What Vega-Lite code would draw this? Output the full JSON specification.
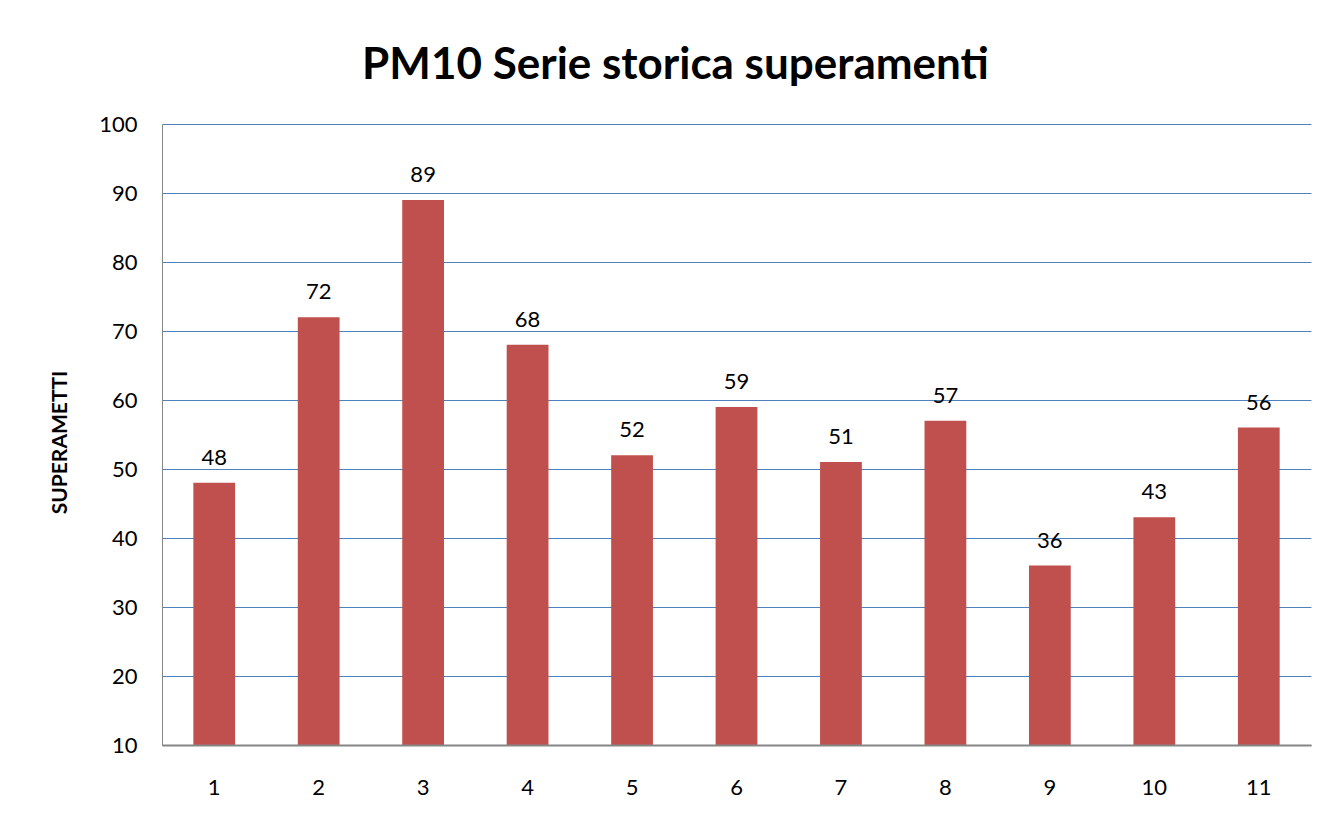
{
  "$schema": "https://vega.github.io/schema/vega-lite/v6.json",
  "width": 1149,
  "height": 621,
  "autosize": {"type": "none"},
  "padding": {"left": 162, "top": 124, "right": 18, "bottom": 78},
  "background": "white",
  "title": {
    "text": "PM10 Serie storica superamenti",
    "font": "Lato",
    "fontSize": 44,
    "fontWeight": "bold",
    "color": "black",
    "anchor": "middle",
    "baseline": "alphabetic",
    "offset": 36,
    "dy": 46,
    "dx": -61
  },
  "data": {
    "values": [
      {"n": "1", "v": 48},
      {"n": "2", "v": 72},
      {"n": "3", "v": 89},
      {"n": "4", "v": 68},
      {"n": "5", "v": 52},
      {"n": "6", "v": 59},
      {"n": "7", "v": 51},
      {"n": "8", "v": 57},
      {"n": "9", "v": 36},
      {"n": "10", "v": 43},
      {"n": "11", "v": 56}
    ]
  },
  "encoding": {
    "x": {
      "field": "n",
      "type": "ordinal",
      "sort": null,
      "scale": {"paddingInner": 0.6, "paddingOuter": 0.3},
      "axis": {
        "title": null,
        "labelAngle": 0,
        "labelFont": "Lato",
        "labelFontSize": 22,
        "labelColor": "black",
        "labelPadding": 32,
        "ticks": false,
        "domainColor": "#868686",
        "domainWidth": 2,
        "grid": false,
        "zindex": 1
      }
    },
    "y": {
      "field": "v",
      "type": "quantitative",
      "scale": {"domain": [10, 100], "nice": false, "zero": false},
      "axis": {
        "title": "SUPERAMETTI",
        "titleFont": "Lato",
        "titleFontSize": 21,
        "titleFontWeight": "bold",
        "titleColor": "black",
        "titleAngle": -90,
        "titleAlign": "center",
        "titleBaseline": "middle",
        "titleX": -102,
        "titleY": 318,
        "values": [10, 20, 30, 40, 50, 60, 70, 80, 90, 100],
        "labelFont": "Lato",
        "labelFontSize": 22,
        "labelColor": "black",
        "labelPadding": 25,
        "ticks": false,
        "domainColor": "#868686",
        "domainWidth": 1,
        "gridColor": "#4F81BD",
        "gridWidth": 1.2,
        "gridOpacity": 1
      }
    }
  },
  "layer": [
    {"mark": {"type": "bar", "color": "#C0504D", "clip": true}},
    {
      "mark": {
        "type": "text",
        "font": "Lato",
        "fontSize": 22,
        "color": "black",
        "baseline": "alphabetic",
        "dy": -18
      },
      "encoding": {"text": {"field": "v", "type": "quantitative"}}
    }
  ],
  "config": {"view": {"stroke": null}}
}
